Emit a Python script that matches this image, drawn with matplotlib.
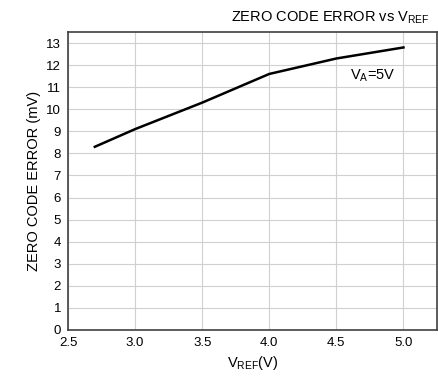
import matplotlib
matplotlib.use("Agg")
import matplotlib.pyplot as plt

plt.rcParams["font.family"] = ["Liberation Sans", "DejaVu Sans"]

# data
vref = [2.7, 3.0, 3.5, 4.0, 4.5, 5.0]
zero_code_error = [8.3, 9.1, 10.3, 11.6, 12.3, 12.8]
x_ticks = [2.5, 3.0, 3.5, 4.0, 4.5, 5.0]
y_ticks = list(range(0, 14))

fig = plt.figure(figsize=(4.38, 3.83), dpi=100)
ax = fig.add_axes([68 / 438, 1 - 330 / 383, (437 - 68) / 438, (330 - 32) / 383])

ax.plot(vref, zero_code_error, color="black", linewidth=1.8)

ax.set_xlim(2.5, 5.25)
ax.set_ylim(0, 13.5)
ax.set_xticks(x_ticks)
ax.set_xticklabels([f"{t:.1f}" for t in x_ticks])
ax.set_yticks(y_ticks)
ax.tick_params(length=0, labelsize=9.5, pad=5)
ax.grid(True, color="#d0d0d0", linewidth=0.8)
for s in ax.spines.values():
    s.set_color("#404040")
    s.set_linewidth(1.2)

ax.set_xlabel(r"V$_{\mathregular{REF}}$(V)", fontsize=10.5)
ax.set_ylabel("ZERO CODE ERROR (mV)", fontsize=10.5)
ax.text(4.6, 11.35, r"V$_{\mathregular{A}}$=5V", fontsize=10.5)
fig.text(330 / 438, 1 - 18 / 383, r"ZERO CODE ERROR vs V$_{\mathregular{REF}}$",
         fontsize=10.5, ha="center", va="center")

fig.savefig("out.png", dpi=100)
